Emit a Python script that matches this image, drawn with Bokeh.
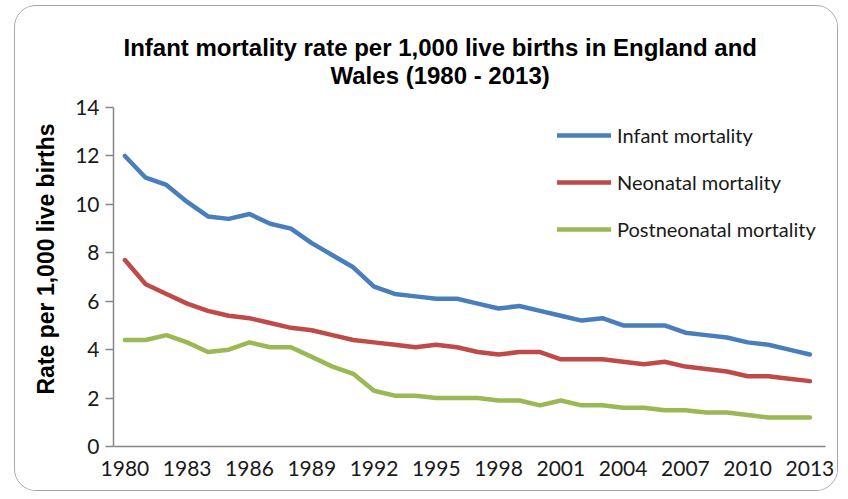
from bokeh.plotting import figure
from bokeh.models import Range1d, FixedTicker, Legend, LegendItem, Title
from bokeh.embed import file_html
from bokeh.resources import INLINE

years = list(range(1980, 2014))
infant = [12.0, 11.1, 10.8, 10.1, 9.5, 9.4, 9.6, 9.2, 9.0, 8.4, 7.9, 7.4, 6.6, 6.3, 6.2, 6.1, 6.1,
          5.9, 5.7, 5.8, 5.6, 5.4, 5.2, 5.3, 5.0, 5.0, 5.0, 4.7, 4.6, 4.5, 4.3, 4.2, 4.0, 3.8]
neonatal = [7.7, 6.7, 6.3, 5.9, 5.6, 5.4, 5.3, 5.1, 4.9, 4.8, 4.6, 4.4, 4.3, 4.2, 4.1, 4.2, 4.1,
            3.9, 3.8, 3.9, 3.9, 3.6, 3.6, 3.6, 3.5, 3.4, 3.5, 3.3, 3.2, 3.1, 2.9, 2.9, 2.8, 2.7]
postneonatal = [4.4, 4.4, 4.6, 4.3, 3.9, 4.0, 4.3, 4.1, 4.1, 3.7, 3.3, 3.0, 2.3, 2.1, 2.1, 2.0, 2.0,
                2.0, 1.9, 1.9, 1.7, 1.9, 1.7, 1.7, 1.6, 1.6, 1.5, 1.5, 1.4, 1.4, 1.3, 1.2, 1.2, 1.2]
series_names = ["Infant mortality", "Neonatal mortality", "Postneonatal mortality"]
series_colors = ["#4A7EBB", "#BE4B48", "#98B954"]
x_ticks = list(range(1980, 2014, 3))
y_ticks = list(range(0, 15, 2))
title_lines = ["Infant mortality rate per 1,000 live births in England and", "Wales (1980 - 2013)"]

p = figure(width=824, height=486, output_backend="svg", toolbar_location=None,
           x_range=Range1d(1979.45, 2013.75), y_range=Range1d(0, 14),
           min_border_left=98, min_border_right=14, min_border_top=101, min_border_bottom=46)
p.styles = {"border": "1.5px solid #a6a6a6", "border-radius": "22px",
            "margin-left": "14px", "margin-top": "5px", "overflow": "hidden"}
p.outline_line_color = None
p.xgrid.visible = False
p.ygrid.visible = False
p.background_fill_color = "white"
p.border_fill_color = "white"

tick_font = "Lato"
p.xaxis.ticker = FixedTicker(ticks=x_ticks)
p.yaxis.ticker = FixedTicker(ticks=y_ticks)
for ax in (p.xaxis[0], p.yaxis[0]):
    ax.axis_line_color = "#868686"
    ax.axis_line_width = 1.5
    ax.major_tick_line_color = "#868686"
    ax.major_tick_line_width = 1.5
    ax.minor_tick_line_color = None
    ax.major_label_text_font = tick_font
    ax.major_label_text_font_size = "21px"
    ax.major_label_text_color = "#1a1a1a"
p.xaxis.major_tick_out = 0
p.xaxis.major_tick_in = 0
p.xaxis.major_label_standoff = 14
p.yaxis.major_tick_out = 8
p.yaxis.major_tick_in = 0
p.yaxis.major_label_standoff = 6

ylabel = Title(text="Rate per 1,000 live births", align="left", offset=52,
               text_font="Liberation Sans", text_font_style="bold", text_font_size="23px",
               text_color="black", standoff=28)
p.add_layout(ylabel, "left")

renderers = []
for vals, c in zip([infant, neonatal, postneonatal], series_colors):
    r = p.line(years, vals, line_color=c, line_width=4.5, line_join="round", line_cap="round")
    renderers.append(r)

legend = Legend(items=[LegendItem(label=n, renderers=[r]) for n, r in zip(series_names, renderers)],
                location=(444, 205), orientation="vertical", padding=0, margin=0,
                spacing=23, glyph_width=54, glyph_height=20, label_height=20,
                label_standoff=6, border_line_color=None, background_fill_alpha=0,
                label_text_font=tick_font, label_text_font_size="20px", label_text_color="#1a1a1a")
p.add_layout(legend, "center")

t2 = Title(text=title_lines[1], align="left", offset=217, text_font="Liberation Sans",
           text_font_style="bold", text_font_size="24px", text_color="black", standoff=38)
t1 = Title(text=title_lines[0], align="left", offset=10, text_font="Liberation Sans",
           text_font_style="bold", text_font_size="24px", text_color="black", standoff=-40)
p.add_layout(t2, "above")
p.add_layout(t1, "above")

open("out.html", "w").write(file_html(p, INLINE))
